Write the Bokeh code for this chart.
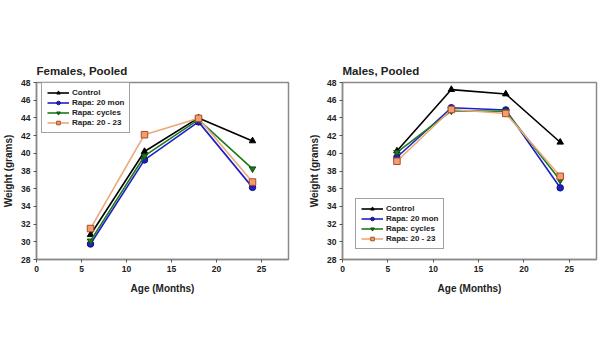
from bokeh.plotting import figure
from bokeh.layouts import row
from bokeh.models import Legend, LegendItem, FixedTicker
from bokeh.embed import file_html
from bokeh.resources import INLINE

ages = [6, 12, 18, 24]
series_names = ["Control", "Rapa: 20 mon", "Rapa: cycles", "Rapa: 20 - 23"]

fem_control = [30.8, 40.2, 44.0, 41.4]
fem_rapa20 = [29.75, 39.25, 43.55, 36.15]
fem_cycles = [30.1, 39.7, 43.8, 38.25]
fem_rapa2023 = [31.5, 42.1, 43.95, 36.75]

male_control = [40.25, 47.2, 46.7, 41.25]
male_rapa20 = [39.55, 45.15, 44.9, 36.1]
male_cycles = [40.1, 44.8, 44.75, 36.95]
male_rapa2023 = [39.1, 44.95, 44.5, 37.4]

x_ticks = [0, 5, 10, 15, 20, 25]
y_ticks = [28, 30, 32, 34, 36, 38, 40, 42, 44, 46, 48]

FONT = "Liberation Sans"

styles = [
    dict(line="#000000", marker="triangle", fill="#000000", edge="#000000", size=6.5),
    dict(line="#1f1fc8", marker="circle", fill="#1f1fc8", edge="#10107a", size=6.5),
    dict(line="#1c7a1c", marker="inverted_triangle", fill="#1c7a1c", edge="#0f4f0f", size=6.5),
    dict(line="#eba878", marker="square", fill="#f0a070", edge="#b04a20", size=6.5),
]


def make_plot(title, data, width, height, border_left, border_right, border_top, border_bottom, legend_loc):
    p = figure(width=width, height=height, x_range=(0, 28), y_range=(28, 48),
               output_backend="svg", toolbar_location=None,
               min_border_left=border_left, min_border_right=border_right,
               min_border_top=border_top, min_border_bottom=border_bottom)
    p.title.text = title
    p.title.text_font = FONT
    p.title.text_font_size = "11.5px"
    p.title.text_font_style = "bold"
    p.title.text_color = "#222222"
    p.title.offset = 0
    p.title.standoff = 11
    p.outline_line_color = "#8a8a8a"
    p.outline_line_width = 1.5
    p.xgrid.visible = False
    p.ygrid.visible = False
    p.xaxis.ticker = FixedTicker(ticks=x_ticks)
    p.yaxis.ticker = FixedTicker(ticks=y_ticks)
    for ax in (p.xaxis[0], p.yaxis[0]):
        ax.axis_line_color = "#8a8a8a"
        ax.axis_line_width = 1.5
        ax.major_tick_line_color = "#555555"
        ax.major_tick_in = 0
        ax.major_tick_out = 3
        ax.minor_tick_line_color = None
        ax.major_label_text_font = FONT
        ax.major_label_text_font_size = "8.5px"
        ax.major_label_text_font_style = "bold"
        ax.major_label_text_color = "#222222"
        ax.major_label_standoff = 3
        ax.axis_label_text_font = FONT
        ax.axis_label_text_font_size = "10px"
        ax.axis_label_text_font_style = "bold"
        ax.axis_label_text_color = "#222222"
    p.xaxis.axis_label = "Age (Months)"
    p.xaxis.axis_label_standoff = 8
    p.yaxis.axis_label = "Weight (grams)"
    p.yaxis.axis_label_standoff = 4

    items = []
    for name, vals, st in zip(series_names, data, styles):
        ln = p.line(ages, vals, line_color=st["line"], line_width=1.6)
        sc = p.scatter(ages, vals, marker=st["marker"], size=st["size"],
                       fill_color=st["fill"], line_color=st["edge"], line_width=1)
        items.append(LegendItem(label=name, renderers=[ln, sc]))
    legend = Legend(items=items, location=legend_loc)
    legend.label_text_font = FONT
    legend.label_text_font_size = "8px"
    legend.label_text_font_style = "bold"
    legend.label_text_color = "#222222"
    legend.label_height = 8
    legend.glyph_height = 9
    legend.glyph_width = 22
    legend.spacing = 1
    legend.padding = 5
    legend.margin = 0
    legend.label_standoff = 3
    legend.border_line_color = "#444444"
    legend.border_line_width = 1
    legend.background_fill_alpha = 1
    p.add_layout(legend, "center")
    return p


p1 = make_plot("Females, Pooled",
               [fem_control, fem_rapa20, fem_cycles, fem_rapa2023],
               292, 308, 24, 4, 82, 47, (5, 126))
p2 = make_plot("Males, Pooled",
               [male_control, male_rapa20, male_cycles, male_rapa2023],
               306, 308, 50, 2, 79, 49, (13, 10))

layout = row(p1, p2)
open("out.html", "w").write(file_html(layout, INLINE))
